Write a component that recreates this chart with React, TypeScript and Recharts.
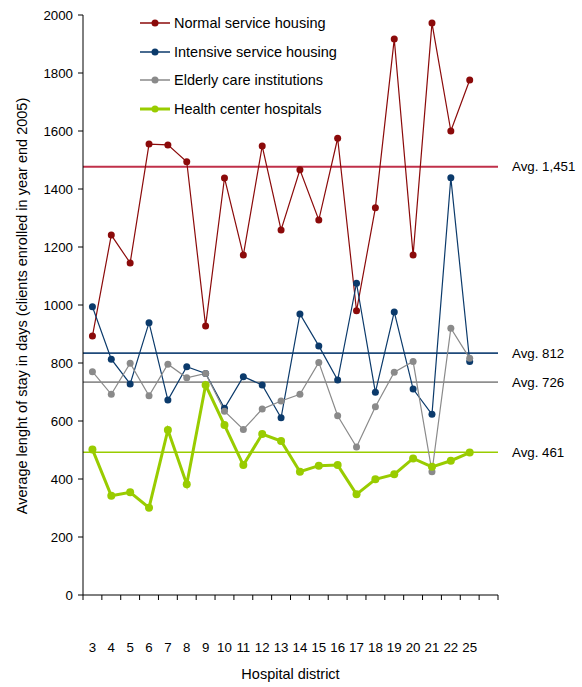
import {
  CartesianGrid,
  Legend,
  Line,
  LineChart,
  ReferenceLine,
  XAxis,
  YAxis,
} from "recharts";

document.body.style.margin = "0";

const districts = ["3", "4", "5", "6", "7", "8", "9", "10", "11", "12", "13", "14", "15", "16", "17", "18", "19", "20", "21", "22", "25", ""];

const normalService = [893, 1241, 1145, 1555, 1552, 1494, 928, 1438, 1172, 1548, 1259, 1466, 1293, 1575, 980, 1335, 1917, 1172, 1972, 1600, 1776, null];
const intensiveService = [994, 813, 728, 939, 672, 787, 764, 644, 753, 724, 611, 969, 859, 741, 1075, 699, 976, 710, 623, 1439, 805, null];
const elderlyCare = [770, 692, 799, 687, 796, 749, 764, 634, 571, 641, 669, 692, 802, 618, 510, 649, 768, 805, 425, 920, 816, null];
const healthCenter = [502, 342, 354, 301, 569, 382, 724, 586, 448, 555, 531, 425, 446, 448, 347, 399, 416, 471, 442, 463, 491, null];

const avgLevels = [1477, 834, 734, 492];
const avgLabels = ["Avg. 1,451", "Avg. 812", "Avg. 726", "Avg. 461"];

const yTicks = [0, 200, 400, 600, 800, 1000, 1200, 1400, 1600, 1800, 2000];

const FONT = "'Liberation Sans', Arial, sans-serif";

const series = [
  { key: "normal", name: "Normal service housing", color: "#8b0a0a", width: 1.2, r: 3.5 },
  { key: "intensive", name: "Intensive service housing", color: "#0b3a6b", width: 1.2, r: 3.5 },
  { key: "elderly", name: "Elderly care institutions", color: "#8a8a8a", width: 1.2, r: 3.5 },
  { key: "health", name: "Health center hospitals", color: "#99cc00", width: 3, r: 4 },
];
const avgColors = ["#c0304a", "#1f4a7a", "#8f8f8f", "#99cc00"];

const rows = districts.map((district, i) => ({
  district,
  normal: normalService[i],
  intensive: intensiveService[i],
  elderly: elderlyCare[i],
  health: healthCenter[i],
}));

const PLOT_W = 582 - 83 - 84;
const BAND = PLOT_W / districts.length;

function DistrictTick(props: any) {
  const { x, y, payload, index } = props;
  const last = index === districts.length - 1;
  return (
    <g>
      <line x1={x - BAND / 2} y1={y} x2={x - BAND / 2} y2={y + 5} stroke="#000" />
      {last && <line x1={x + BAND / 2} y1={y} x2={x + BAND / 2} y2={y + 5} stroke="#000" />}
      <text x={x} y={y + 57} textAnchor="middle" fontSize={13.3} fontFamily={FONT} fill="#000">
        {payload.value}
      </text>
    </g>
  );
}

function LegendBox() {
  return (
    <div style={{ fontFamily: FONT, fontSize: 14.5, color: "#000" }}>
      {series.map((s) => (
        <div key={s.key} style={{ display: "flex", alignItems: "center", height: 28.7 }}>
          <svg width={36} height={10}>
            <line x1={2} y1={5} x2={32} y2={5} stroke={s.color} strokeWidth={s.key === "health" ? 3 : 1.5} />
            <circle cx={17} cy={5} r={3.5} fill={s.color} />
          </svg>
          <span>{s.name}</span>
        </div>
      ))}
    </div>
  );
}

export default function App() {
  return (
    <LineChart width={582} height={687} data={rows} margin={{ top: 15, right: 84, bottom: 0, left: 0 }}>
      <CartesianGrid stroke="none" />
      <XAxis
        dataKey="district"
        scale="band"
        interval={0}
        height={92}
        tickSize={0}
        tickMargin={0}
        tickLine={false}
        axisLine={{ stroke: "#000" }}
        tick={<DistrictTick />}
        label={{ value: "Hospital district", position: "insideBottom", offset: 8, fontSize: 14.5, fontFamily: FONT, fill: "#000" }}
      />
      <YAxis
        width={83}
        domain={[0, 2000]}
        ticks={yTicks}
        tickSize={5}
        tickMargin={5}
        axisLine={{ stroke: "#000" }}
        tickLine={{ stroke: "#000" }}
        tick={{ fontSize: 13.3, fontFamily: FONT, fill: "#000" }}
        label={{
          content: () => (
            <text
              x={27}
              y={306}
              transform="rotate(-90, 27, 306)"
              textAnchor="middle"
              fontSize={14.5}
              fontFamily={FONT}
              fill="#000"
            >
              Average lenght of stay in days (clients enrolled in year end 2005)
            </text>
          ),
        }}
      />
      {avgLevels.map((v, i) => (
        <ReferenceLine
          key={avgLabels[i]}
          y={v}
          stroke={avgColors[i]}
          strokeWidth={i === 0 ? 2 : 1.6}
          label={{ value: avgLabels[i], position: "right", offset: 14, fontSize: 13.3, fontFamily: FONT, fill: "#000" }}
        />
      ))}
      <Legend
        layout="vertical"
        align="center"
        verticalAlign="middle"
        wrapperStyle={{ left: 138, top: 8.5, width: 240, height: 116 }}
        content={() => <LegendBox />}
      />
      {series.map((s) => (
        <Line
          key={s.key}
          dataKey={s.key}
          name={s.name}
          stroke={s.color}
          strokeWidth={s.width}
          dot={{ r: s.r, fill: s.color, stroke: s.color, strokeWidth: 0 }}
          activeDot={false}
          isAnimationActive={false}
          connectNulls={false}
        />
      ))}
    </LineChart>
  );
}
